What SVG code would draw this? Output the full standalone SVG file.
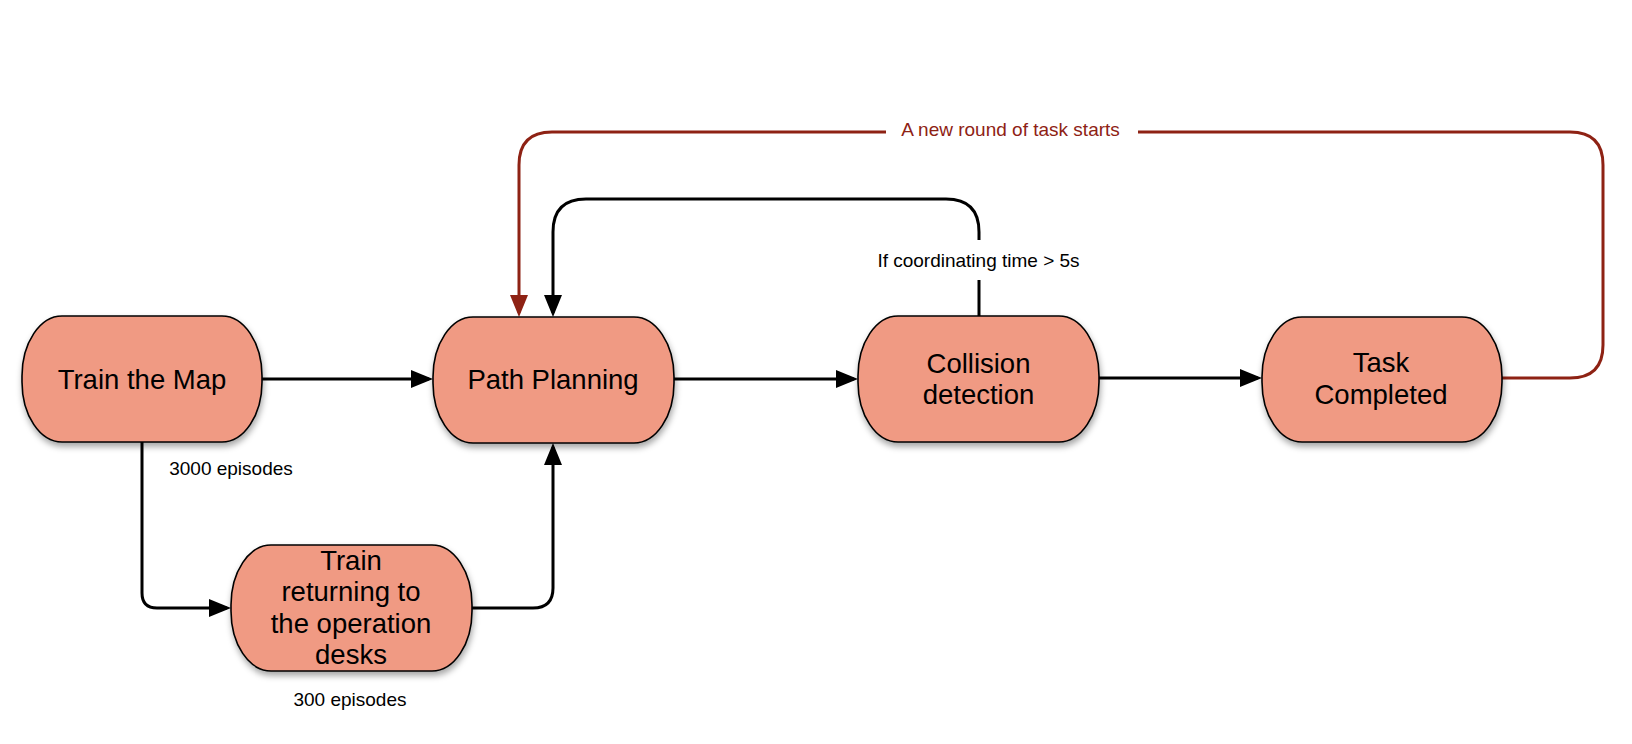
<svg xmlns="http://www.w3.org/2000/svg" width="1632" height="744" viewBox="0 0 1632 744">
<style>
.node rect{fill:#F09A83;stroke:#000;stroke-width:1.6;filter:url(#sh)}
.nt{font-family:"Liberation Sans",Arial,Helvetica,sans-serif;font-size:27.5px;fill:#000;text-anchor:middle}
.lb{font-family:"Liberation Sans",Arial,Helvetica,sans-serif;font-size:19px;fill:#000;text-anchor:middle}
.lr{fill:#8E2214}
.c{fill:none;stroke:#000;stroke-width:3}
.r{fill:none;stroke:#8E2214;stroke-width:3}
</style>
<defs>
<filter id="sh" x="-10%" y="-10%" width="125%" height="135%">
<feDropShadow dx="1" dy="4" stdDeviation="3" flood-color="#000" flood-opacity="0.35"/>
</filter>
<marker id="ab" markerUnits="userSpaceOnUse" markerWidth="22" markerHeight="18" refX="18" refY="9" orient="auto">
<path d="M0,0 L22,9 L0,18 z" fill="#000"/>
</marker>
<marker id="ar" markerUnits="userSpaceOnUse" markerWidth="22" markerHeight="18" refX="18" refY="9" orient="auto">
<path d="M0,0 L22,9 L0,18 z" fill="#8E2214"/>
</marker>
</defs>
<rect width="1632" height="744" fill="#fff"/>
<g id="connectors">
<path class="c" d="M262,379 H429" marker-end="url(#ab)"/>
<path class="c" d="M674,379 H854" marker-end="url(#ab)"/>
<path class="c" d="M1099,378 H1258" marker-end="url(#ab)"/>
<path class="c" d="M142,442 V593 Q142,608 157,608 H227" marker-end="url(#ab)"/>
<path class="c" d="M472,608 H533 Q553,608 553,588 V447" marker-end="url(#ab)"/>
<path class="c" d="M979,316 V232 Q979,199 946,199 H586 Q553,199 553,232 V313" marker-end="url(#ab)"/>
<path class="r" d="M1502,378 H1570 Q1603,378 1603,345 V165 Q1603,132 1570,132 H552 Q519,132 519,165 V313" marker-end="url(#ar)"/>
<rect x="886" y="118" width="252" height="28" fill="#fff"/>
<rect x="868" y="240" width="222" height="40" fill="#fff"/>
<text class="lb lr" x="1010.5" y="136">A new round of task starts</text>
<text class="lb" x="978.5" y="267">If coordinating time &gt; 5s</text>
<text class="lb" x="231" y="475">3000 episodes</text>
<text class="lb" x="350" y="706">300 episodes</text>
</g>
<g id="n1" class="node">
<rect x="22" y="316" width="240" height="126" rx="40" ry="60"/>
<text class="nt" x="142" y="389">Train the Map</text>
</g>
<g id="n2" class="node">
<rect x="433" y="317" width="241" height="126" rx="40" ry="60"/>
<text class="nt" x="553" y="389">Path Planning</text>
</g>
<g id="n3" class="node">
<rect x="858" y="316" width="241" height="126" rx="40" ry="60"/>
<text class="nt" x="978.5" y="373">Collision</text>
<text class="nt" x="978.5" y="404">detection</text>
</g>
<g id="n4" class="node">
<rect x="1262" y="317" width="240" height="125" rx="40" ry="60"/>
<text class="nt" x="1381" y="372">Task</text>
<text class="nt" x="1381" y="404">Completed</text>
</g>
<g id="n5" class="node">
<rect x="231" y="545" width="241" height="126" rx="40" ry="60"/>
<text class="nt" x="351" y="570">Train</text>
<text class="nt" x="351" y="601">returning to</text>
<text class="nt" x="351" y="633">the operation</text>
<text class="nt" x="351" y="664">desks</text>
</g>
</svg>
